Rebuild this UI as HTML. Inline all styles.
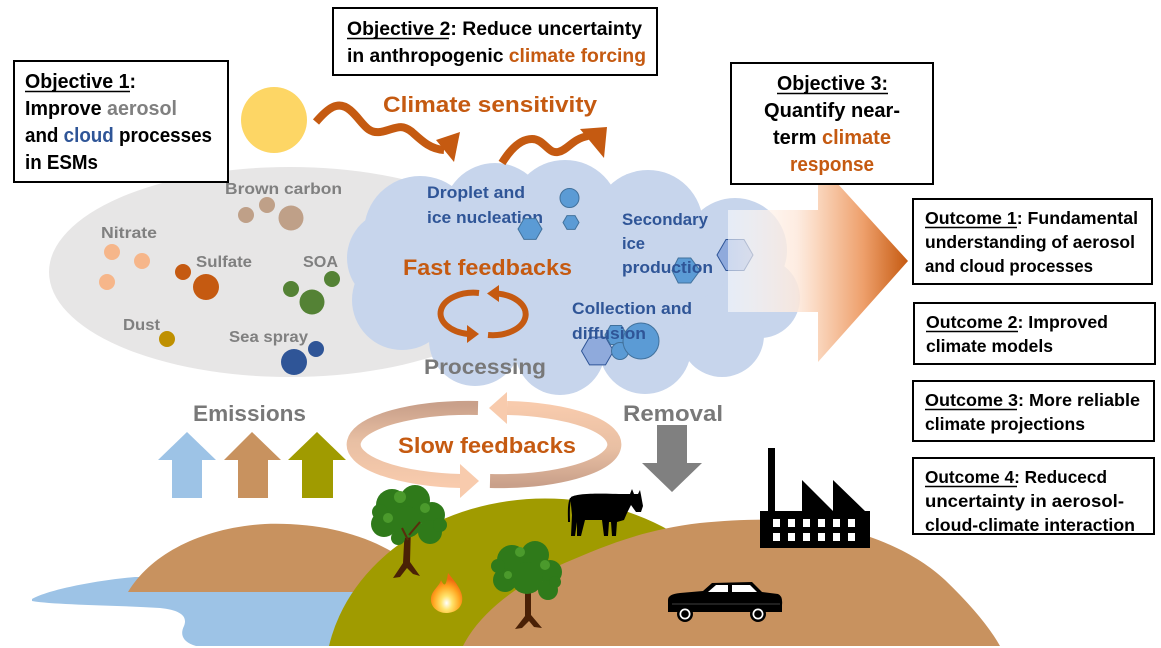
<!DOCTYPE html>
<html><head><meta charset="utf-8">
<style>
html,body{margin:0;padding:0;background:#fff;}
svg{display:block;}
text{font-family:"Liberation Sans",sans-serif;font-weight:bold;}
</style></head>
<body>
<svg width="1161" height="648" viewBox="0 0 1161 648" xmlns="http://www.w3.org/2000/svg">
<defs>
  <linearGradient id="ag" gradientUnits="userSpaceOnUse" x1="728" y1="0" x2="908" y2="0">
    <stop offset="0" stop-color="#ffffff" stop-opacity="0.55"/>
    <stop offset="0.38" stop-color="#fde9dc" stop-opacity="0.85"/>
    <stop offset="0.5" stop-color="#fad6bd"/>
    <stop offset="0.75" stop-color="#eea06c"/>
    <stop offset="1" stop-color="#c55a11"/>
  </linearGradient>
  <linearGradient id="gB" gradientUnits="userSpaceOnUse" x1="0" y1="405" x2="0" y2="485">
    <stop offset="0" stop-color="#c9a08a"/>
    <stop offset="0.45" stop-color="#e8bfa3"/>
    <stop offset="1" stop-color="#f8cbad"/>
  </linearGradient>
  <linearGradient id="gA" gradientUnits="userSpaceOnUse" x1="0" y1="485" x2="0" y2="405">
    <stop offset="0" stop-color="#c9a08a"/>
    <stop offset="0.45" stop-color="#e8bfa3"/>
    <stop offset="1" stop-color="#f8cbad"/>
  </linearGradient>
  <radialGradient id="fireg" cx="0.5" cy="0.75" r="0.6">
    <stop offset="0" stop-color="#ffffff"/>
    <stop offset="0.3" stop-color="#ffe36b"/>
    <stop offset="0.7" stop-color="#ffa51f"/>
    <stop offset="1" stop-color="#f06a10"/>
  </radialGradient>
</defs>

<!-- grey aerosol ellipse -->
<ellipse cx="290" cy="272" rx="241" ry="105" fill="#e7e6e6"/>

<!-- cloud -->
<g fill="#c7d5ec">
  <ellipse cx="565" cy="280" rx="190" ry="85"/>
  <circle cx="420" cy="232" r="56"/>
  <circle cx="495" cy="215" r="52"/>
  <circle cx="565" cy="215" r="55"/>
  <circle cx="648" cy="225" r="55"/>
  <circle cx="735" cy="250" r="52"/>
  <circle cx="760" cy="298" r="40"/>
  <circle cx="722" cy="335" r="42"/>
  <circle cx="645" cy="348" r="46"/>
  <circle cx="560" cy="350" r="45"/>
  <circle cx="475" cy="340" r="46"/>
  <circle cx="402" cy="300" r="50"/>
  <circle cx="395" cy="258" r="48"/>
</g>

<!-- aerosol particles -->
<g>
  <circle cx="246" cy="215" r="8" fill="#bfa088"/>
  <circle cx="267" cy="205" r="8" fill="#bfa088"/>
  <circle cx="291" cy="218" r="12.5" fill="#bfa088"/>
  <circle cx="112" cy="252" r="8" fill="#f6b68a"/>
  <circle cx="142" cy="261" r="8" fill="#f6b68a"/>
  <circle cx="107" cy="282" r="8" fill="#f6b68a"/>
  <circle cx="183" cy="272" r="8" fill="#c55a11"/>
  <circle cx="206" cy="287" r="13" fill="#c55a11"/>
  <circle cx="332" cy="279" r="8" fill="#548235"/>
  <circle cx="291" cy="289" r="8" fill="#548235"/>
  <circle cx="312" cy="302" r="12.5" fill="#548235"/>
  <circle cx="167" cy="339" r="8" fill="#bf9000"/>
  <circle cx="316" cy="349" r="8" fill="#2f5597"/>
  <circle cx="294" cy="362" r="13" fill="#2f5597"/>
</g>
<g fill="#808080" font-size="16">
  <text x="225" y="194" textLength="117" lengthAdjust="spacingAndGlyphs">Brown carbon</text>
  <text x="101" y="238" textLength="56" lengthAdjust="spacingAndGlyphs">Nitrate</text>
  <text x="196" y="267" textLength="56" lengthAdjust="spacingAndGlyphs">Sulfate</text>
  <text x="303" y="267" textLength="35" lengthAdjust="spacingAndGlyphs">SOA</text>
  <text x="123" y="330" textLength="37" lengthAdjust="spacingAndGlyphs">Dust</text>
  <text x="229" y="342" textLength="79" lengthAdjust="spacingAndGlyphs">Sea spray</text>
</g>

<!-- cloud contents -->
<g>
  <polygon points="700,270.5 690.75,283 678.25,283 672,270.5 678.25,258 690.75,258" fill="#5b9bd5" stroke="#41719c" stroke-width="1"/>
  <polygon points="753,255 744,270.5 726,270.5 717,255 726,239.5 744,239.5" fill="#8faadc" stroke="#2f5597" stroke-width="1"/>
  <polygon points="613.5,351 605.5,364.9 589.5,364.9 581.5,351 589.5,337.1 605.5,337.1" fill="#8faadc" stroke="#2f5597" stroke-width="1"/>
  <polygon points="627,335 621.5,344.5 610.5,344.5 605,335 610.5,325.5 621.5,325.5" fill="#5b9bd5" stroke="#41719c" stroke-width="1"/>
  <circle cx="620" cy="351" r="8.5" fill="#5b9bd5" stroke="#41719c" stroke-width="1"/>
  <circle cx="641" cy="341" r="18" fill="#5b9bd5" stroke="#41719c" stroke-width="1"/>
  <circle cx="569.5" cy="198" r="9.5" fill="#5b9bd5" stroke="#41719c" stroke-width="1"/>
  <polygon points="579,222.5 575,229.4 567,229.4 563,222.5 567,215.6 575,215.6" fill="#5b9bd5" stroke="#41719c" stroke-width="1"/>
</g>
<g fill="#2f5597" font-size="16.5">
  <text x="427" y="198" textLength="98" lengthAdjust="spacingAndGlyphs">Droplet and</text>
  <text x="427" y="223" textLength="116" lengthAdjust="spacingAndGlyphs">ice nucleation</text>
  <text x="622" y="225" textLength="86" lengthAdjust="spacingAndGlyphs">Secondary</text>
  <text x="622" y="249" textLength="23" lengthAdjust="spacingAndGlyphs">ice</text>
  <text x="622" y="273" textLength="91" lengthAdjust="spacingAndGlyphs">production</text>
  <text x="572" y="314" textLength="120" lengthAdjust="spacingAndGlyphs">Collection and</text>
  <text x="572" y="339" textLength="74" lengthAdjust="spacingAndGlyphs">diffusion</text>
</g>
<polygon points="542,229 536,239.4 524,239.4 518,229 524,218.6 536,218.6" fill="#5b9bd5" stroke="#41719c" stroke-width="1"/>

<text x="403" y="275" font-size="22" fill="#c55a11" textLength="169" lengthAdjust="spacingAndGlyphs">Fast feedbacks</text>

<!-- fast feedback circular arrows -->
<g fill="none" stroke="#c55a11" stroke-width="6">
  <path d="M479,293 A32.5,20.5 0 0 0 468,334"/>
  <path d="M488,335 A32.5,20.5 0 0 0 497,293.5"/>
</g>
<polygon points="467,325 467,343 479,334" fill="#c55a11"/>
<polygon points="499,285 499,302 487,293.5" fill="#c55a11"/>

<text x="424" y="374" font-size="21" fill="#787878" textLength="122" lengthAdjust="spacingAndGlyphs">Processing</text>

<!-- big gradient arrow -->
<polygon points="728,210 818,210 818,162 908,261 818,362 818,312 728,312" fill="url(#ag)"/>

<!-- sun -->
<circle cx="274" cy="120" r="33" fill="#fdd665"/>

<!-- wave arrows -->
<g fill="none" stroke="#c55a11" stroke-width="8" stroke-linejoin="round">
  <path d="M316,122 C328,108 338,100 350,110 C362,120 366,134 380,132 C394,130 400,122 412,132 C422,141 430,149 444,150"/>
  <path d="M502,163 C510,150 520,139 532,139 C544,139 548,154 558,152 C568,150 572,139 588,136"/>
</g>
<polygon points="436,140 460,132 454,162" fill="#c55a11"/>
<polygon points="580,129 607,127 604,158" fill="#c55a11"/>
<text x="383" y="112" font-size="22" fill="#c55a11" textLength="214" lengthAdjust="spacingAndGlyphs">Climate sensitivity</text>

<!-- objective boxes -->
<rect x="14" y="61" width="214" height="121" fill="#fff" stroke="#000" stroke-width="2"/>
<g font-size="20" fill="#000">
  <text x="25" y="88" textLength="111" lengthAdjust="spacingAndGlyphs">Objective 1:</text>
  <text x="25" y="115" textLength="152" lengthAdjust="spacingAndGlyphs">Improve <tspan fill="#808080">aerosol</tspan></text>
  <text x="25" y="142" textLength="187" lengthAdjust="spacingAndGlyphs">and <tspan fill="#2f5597">cloud</tspan> processes</text>
  <text x="25" y="169" textLength="73" lengthAdjust="spacingAndGlyphs">in ESMs</text>
</g>
<line x1="25" y1="91.5" x2="130" y2="91.5" stroke="#000" stroke-width="1.5"/>

<rect x="333" y="8" width="324" height="67" fill="#fff" stroke="#000" stroke-width="2"/>
<g font-size="19" fill="#000">
  <text x="347" y="35" textLength="295" lengthAdjust="spacingAndGlyphs">Objective 2: Reduce uncertainty</text>
  <text x="347" y="62" textLength="299" lengthAdjust="spacingAndGlyphs">in anthropogenic <tspan fill="#c55a11">climate forcing</tspan></text>
</g>
<line x1="347" y1="38.5" x2="449" y2="38.5" stroke="#000" stroke-width="1.5"/>

<rect x="731" y="63" width="202" height="121" fill="#fff" stroke="#000" stroke-width="2"/>
<g font-size="20" fill="#000">
  <text x="777" y="90" textLength="111" lengthAdjust="spacingAndGlyphs">Objective 3:</text>
  <text x="764" y="117" textLength="136" lengthAdjust="spacingAndGlyphs">Quantify near-</text>
  <text x="773" y="144" textLength="118" lengthAdjust="spacingAndGlyphs">term <tspan fill="#c55a11">climate</tspan></text>
  <text x="790" y="171" textLength="84" lengthAdjust="spacingAndGlyphs" fill="#c55a11">response</text>
</g>
<line x1="777" y1="93.5" x2="888" y2="93.5" stroke="#000" stroke-width="1.5"/>

<!-- outcome boxes -->
<g fill="#fff" stroke="#000" stroke-width="2">
  <rect x="913" y="199" width="239" height="85"/>
  <rect x="914" y="303" width="241" height="61"/>
  <rect x="913" y="381" width="241" height="60"/>
  <rect x="913" y="458" width="241" height="76"/>
</g>
<g font-size="17.5" fill="#000">
  <text x="925" y="224" textLength="213" lengthAdjust="spacingAndGlyphs">Outcome 1: Fundamental</text>
  <text x="925" y="248" textLength="210" lengthAdjust="spacingAndGlyphs">understanding of aerosol</text>
  <text x="925" y="272" textLength="168" lengthAdjust="spacingAndGlyphs">and cloud processes</text>
  <text x="926" y="328" textLength="182" lengthAdjust="spacingAndGlyphs">Outcome 2: Improved</text>
  <text x="926" y="352" textLength="127" lengthAdjust="spacingAndGlyphs">climate models</text>
  <text x="925" y="406" textLength="215" lengthAdjust="spacingAndGlyphs">Outcome 3: More reliable</text>
  <text x="925" y="430" textLength="160" lengthAdjust="spacingAndGlyphs">climate projections</text>
  <text x="925" y="483" textLength="182" lengthAdjust="spacingAndGlyphs">Outcome 4: Reducecd</text>
  <text x="925" y="507" textLength="199" lengthAdjust="spacingAndGlyphs">uncertainty in aerosol-</text>
  <text x="925" y="531" textLength="210" lengthAdjust="spacingAndGlyphs">cloud-climate interaction</text>
</g>
<g stroke="#000" stroke-width="1.4">
  <line x1="925" y1="227.5" x2="1017" y2="227.5"/>
  <line x1="926" y1="331.5" x2="1018" y2="331.5"/>
  <line x1="925" y1="409.5" x2="1017" y2="409.5"/>
  <line x1="925" y1="486.5" x2="1017" y2="486.5"/>
</g>

<!-- emissions -->
<text x="193" y="421" font-size="22" fill="#787878" textLength="113" lengthAdjust="spacingAndGlyphs">Emissions</text>
<polygon points="187,432 216,460 202,460 202,498 172,498 172,460 158,460" fill="#9dc3e6"/>
<polygon points="252,432 281,460 268,460 268,498 238,498 238,460 224,460" fill="#c8925f"/>
<polygon points="317,432 346,460 333,460 333,498 302,498 302,460 288,460" fill="#a09b00"/>

<!-- removal -->
<text x="623" y="421" font-size="22" fill="#787878" textLength="100" lengthAdjust="spacingAndGlyphs">Removal</text>
<polygon points="657,425 687,425 687,463 702,463 672,492 642,463 657,463" fill="#808080"/>

<!-- slow feedbacks ring -->
<g fill="none" stroke-width="14">
  <path d="M478,408 A114,36 0 0 0 461,481" stroke="url(#gB)"/>
  <path d="M490,481 A114,36 0 0 0 507,408" stroke="url(#gA)"/>
</g>
<polygon points="460,464 460,498 479,481" fill="#f8cbad"/>
<polygon points="507,392 507,424 489,408" fill="#f8cbad"/>
<text x="398" y="453" font-size="22" fill="#c55a11" textLength="178" lengthAdjust="spacingAndGlyphs">Slow feedbacks</text>

<!-- landscape -->
<path d="M32,599 C50,589 100,580 135,577 L375,577 L375,646 L196,646 C182,642 180,634 184,626 C188,616 180,610 160,608 C110,605 55,605 32,601 Z" fill="#9dc3e6"/>
<path d="M128,592 C150,555 200,528 265,524 C320,522 370,535 405,560 L405,592 Z" fill="#c8925f"/>
<path d="M329,646 A220,182 0 0 1 761,646 Z" fill="#a09b00"/>
<path d="M463,646 C480,612 520,582 567,562 C600,548 640,530 700,523 C730,520 760,519 785,520 C860,525 915,552 945,580 C972,606 990,628 1000,646 Z" fill="#c8925f"/>

<!-- tree 1 -->
<g>
  <path d="M405,525 L411,525 L410,562 L420,576 L413,574 L407,568 L400,577 L393,578 L403,563 Z" fill="#4a2106"/>
  <g fill="#2f7a1a">
    <circle cx="392" cy="505" r="16"/>
    <circle cx="415" cy="500" r="15"/>
    <circle cx="432" cy="515" r="13"/>
    <circle cx="384" cy="524" r="13"/>
    <circle cx="406" cy="522" r="16"/>
    <circle cx="430" cy="532" r="12"/>
    <circle cx="380" cy="512" r="8"/>
    <circle cx="440" cy="525" r="7"/>
    <circle cx="398" cy="538" r="7"/>
  </g>
  <g fill="#4b9a2c">
    <circle cx="400" cy="497" r="6"/>
    <circle cx="425" cy="508" r="5"/>
    <circle cx="388" cy="518" r="5"/>
  </g>
  <path d="M408,540 L402,528 M409,535 L420,522" stroke="#5a2d0c" stroke-width="2"/>
</g>

<!-- tree 2 -->
<g>
  <path d="M525,580 L531,580 L531,615 L542,628 L534,627 L529,621 L522,628 L515,629 L525,616 Z" fill="#4a2106"/>
  <g fill="#2f7a1a">
    <circle cx="512" cy="560" r="15"/>
    <circle cx="535" cy="555" r="14"/>
    <circle cx="550" cy="572" r="12"/>
    <circle cx="505" cy="580" r="12"/>
    <circle cx="527" cy="578" r="16"/>
    <circle cx="548" cy="590" r="10"/>
    <circle cx="498" cy="566" r="7"/>
    <circle cx="555" cy="582" r="6"/>
  </g>
  <g fill="#4b9a2c">
    <circle cx="520" cy="552" r="5"/>
    <circle cx="545" cy="565" r="5"/>
    <circle cx="508" cy="575" r="4"/>
  </g>
</g>

<!-- fire -->
<path d="M448,573 C456,583 464,592 462,602 C460,610 453,613 446,613 C438,613 430,607 431,598 C432,590 439,587 441,580 C444,586 446,588 448,573 Z" fill="url(#fireg)"/>

<!-- cow -->
<path d="M571,497 C580,492 610,494 624,494 L630,494 L632,489 L634,494 L638,494 L640,490 L641,495 L643,506 L641,512 L636,512 L631,505 L627,513 L624,520 L617,522 L616,536 L612,536 L611,522 L609,522 L608,536 L604,536 L602,520 L585,520 L581,536 L577,536 L577,522 L575,536 L571,536 L572,515 L571,505 Z" fill="#000"/>
<path d="M571,498 C568,505 569,515 569,522" stroke="#000" stroke-width="2" fill="none"/>

<!-- factory -->
<path d="M760,548 L760,511 L768,511 L768,448 L775,448 L775,511 L802,511 L802,480 L833,511 L833,480 L865,511 L870,511 L870,548 Z" fill="#000"/>
<g fill="#fff">
  <rect x="773" y="519" width="7" height="8"/><rect x="788" y="519" width="7" height="8"/><rect x="803" y="519" width="7" height="8"/>
  <rect x="818" y="519" width="7" height="8"/><rect x="833" y="519" width="7" height="8"/><rect x="848" y="519" width="7" height="8"/>
  <rect x="773" y="533" width="7" height="8"/><rect x="788" y="533" width="7" height="8"/><rect x="803" y="533" width="7" height="8"/>
  <rect x="818" y="533" width="7" height="8"/><rect x="833" y="533" width="7" height="8"/><rect x="848" y="533" width="7" height="8"/>
</g>

<!-- car -->
<path d="M668,600 Q668,594 680,593 L703,591 L712,583 L752,582 L762,592 L778,594 Q783,596 782,605 L782,612 L668,612 Z" fill="#000"/>
<polygon points="708,592 716,585 728,585 728,592" fill="#fff"/>
<polygon points="732,585 750,585 757,592 732,592" fill="#fff"/>
<line x1="672" y1="604" x2="780" y2="604" stroke="#555" stroke-width="0.8"/>
<circle cx="685" cy="614" r="8" fill="#000"/>
<circle cx="685" cy="614" r="5.5" fill="#fff"/>
<circle cx="685" cy="614" r="3.8" fill="#000"/>
<circle cx="758" cy="614" r="8" fill="#000"/>
<circle cx="758" cy="614" r="5.5" fill="#fff"/>
<circle cx="758" cy="614" r="3.8" fill="#000"/>
</svg>
</body></html>
